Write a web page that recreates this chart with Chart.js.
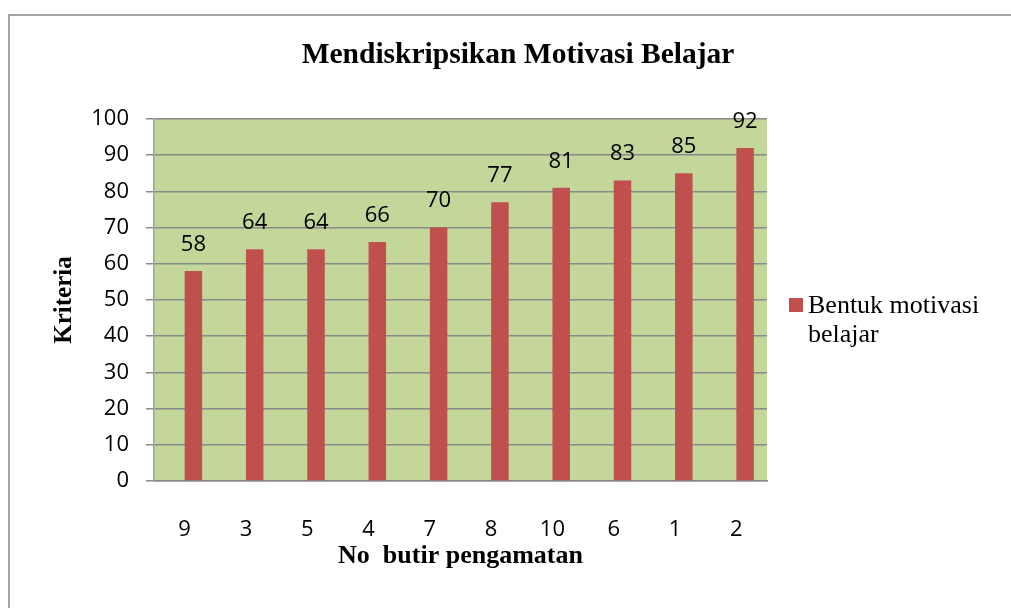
<!DOCTYPE html>
<html>
<head>
<meta charset="utf-8">
<script src="https://cdn.jsdelivr.net/npm/chart.js@4.4.1/dist/chart.umd.min.js"></script>
<style>
html,body{margin:0;padding:0;background:#fff;overflow:hidden}
#wrap{width:1011px;height:608px;position:relative}
</style>
</head>
<body>
<div id="wrap"><canvas id="c" width="1011" height="608"></canvas></div>
<script>
const chartTitle = 'Mendiskripsikan Motivasi Belajar';
const xAxisTitle = 'No  butir pengamatan';
const yAxisTitle = 'Kriteria';
const categories = ['9', '3', '5', '4', '7', '8', '10', '6', '1', '2'];
const seriesName = 'Bentuk motivasi belajar';
const values = [58, 64, 64, 66, 70, 77, 81, 83, 85, 92];
const emptySeries = [null, null, null, null, null, null, null, null, null, null];
const yTicks = [0, 10, 20, 30, 40, 50, 60, 70, 80, 90, 100];

const SANS = '"Open Sans", "Liberation Sans", sans-serif';
const SERIF = '"Liberation Serif", "DejaVu Serif", serif';
const BAR = '#c0504d';
const PLOT_BG = '#c4d79b';
const GRID = '#8a8a8a';

const framePlugin = {
  id: 'frame',
  beforeDraw(chart) {
    const {ctx, chartArea: a} = chart;
    ctx.save();
    ctx.fillStyle = PLOT_BG;
    ctx.fillRect(a.left, a.top, a.right - a.left, a.bottom - a.top);
    ctx.strokeStyle = '#868686';
    ctx.lineWidth = 1.5;
    ctx.beginPath();
    ctx.moveTo(9, chart.height);
    ctx.lineTo(9, 15);
    ctx.lineTo(chart.width, 15);
    ctx.stroke();
    ctx.restore();
  },
  afterDraw(chart) {
    const {ctx} = chart;
    ctx.save();
    // title
    ctx.fillStyle = '#000';
    ctx.font = 'bold 29.5px ' + SERIF;
    ctx.textAlign = 'center';
    ctx.textBaseline = 'alphabetic';
    ctx.fillText(chartTitle, 518, 63);
    // value labels
    const meta = chart.getDatasetMeta(1);
    ctx.font = '22px ' + SANS;
    ctx.textBaseline = 'middle';
    meta.data.forEach((bar, i) => {
      ctx.fillText(String(values[i]), bar.x, bar.y - 26.5);
    });
    // legend
    const a = chart.chartArea;
    const lx = a.right + 22;
    ctx.fillStyle = BAR;
    ctx.fillRect(lx, 298, 14, 14);
    ctx.fillStyle = '#000';
    ctx.font = '26px ' + SERIF;
    ctx.textAlign = 'left';
    ctx.textBaseline = 'alphabetic';
    const words = seriesName.split(' ');
    const lines = [];
    let cur = '';
    words.forEach(w => {
      const t = cur ? cur + ' ' + w : w;
      if (ctx.measureText(t).width > 190 && cur) { lines.push(cur); cur = w; } else cur = t;
    });
    if (cur) lines.push(cur);
    lines.forEach((ln, k) => ctx.fillText(ln, lx + 19, 313 + k * 28.5));
    ctx.restore();
  }
};

new Chart(document.getElementById('c'), {
  type: 'bar',
  data: {
    labels: categories,
    datasets: [
      {label: '', data: emptySeries, backgroundColor: 'rgba(0,0,0,0)'},
      {label: seriesName, data: values, backgroundColor: BAR, borderWidth: 0}
    ]
  },
  options: {
    responsive: false,
    animation: false,
    devicePixelRatio: 1,
    categoryPercentage: 0.571,
    barPercentage: 1,
    layout: {padding: {left: 0, top: 119, right: 244, bottom: 0}},
    plugins: {
      legend: {display: false},
      title: {display: false},
      tooltip: {enabled: false}
    },
    scales: {
      x: {
        type: 'category',
        offset: true,
        grid: {display: false},
        border: {display: true, color: GRID, width: 1.5},
        ticks: {color: '#000', font: {family: SANS, size: 22}, padding: 27.5, maxRotation: 0, autoSkip: false},
        title: {display: true, text: xAxisTitle, color: '#000', font: {family: SERIF, size: 26, weight: 'bold'}, padding: {top: 0, bottom: 36}},
        afterFit(s) { s.height = 127; }
      },
      y: {
        min: 0,
        max: 100,
        afterBuildTicks(s) { s.ticks = yTicks.map(v => ({value: v})); },
        grid: {color: GRID, lineWidth: 1.5, tickLength: 8, drawTicks: true},
        border: {display: true, color: '#a0a0a0', width: 1.5},
        ticks: {color: '#000', font: {family: SANS, size: 22}, padding: 17},
        title: {display: true, text: yAxisTitle, color: '#000', font: {family: SERIF, size: 25, weight: 'bold'}, padding: {top: 50, bottom: 0}},
        afterFit(s) { s.width = 154; }
      }
    }
  },
  plugins: [framePlugin]
});
</script>
</body>
</html>
